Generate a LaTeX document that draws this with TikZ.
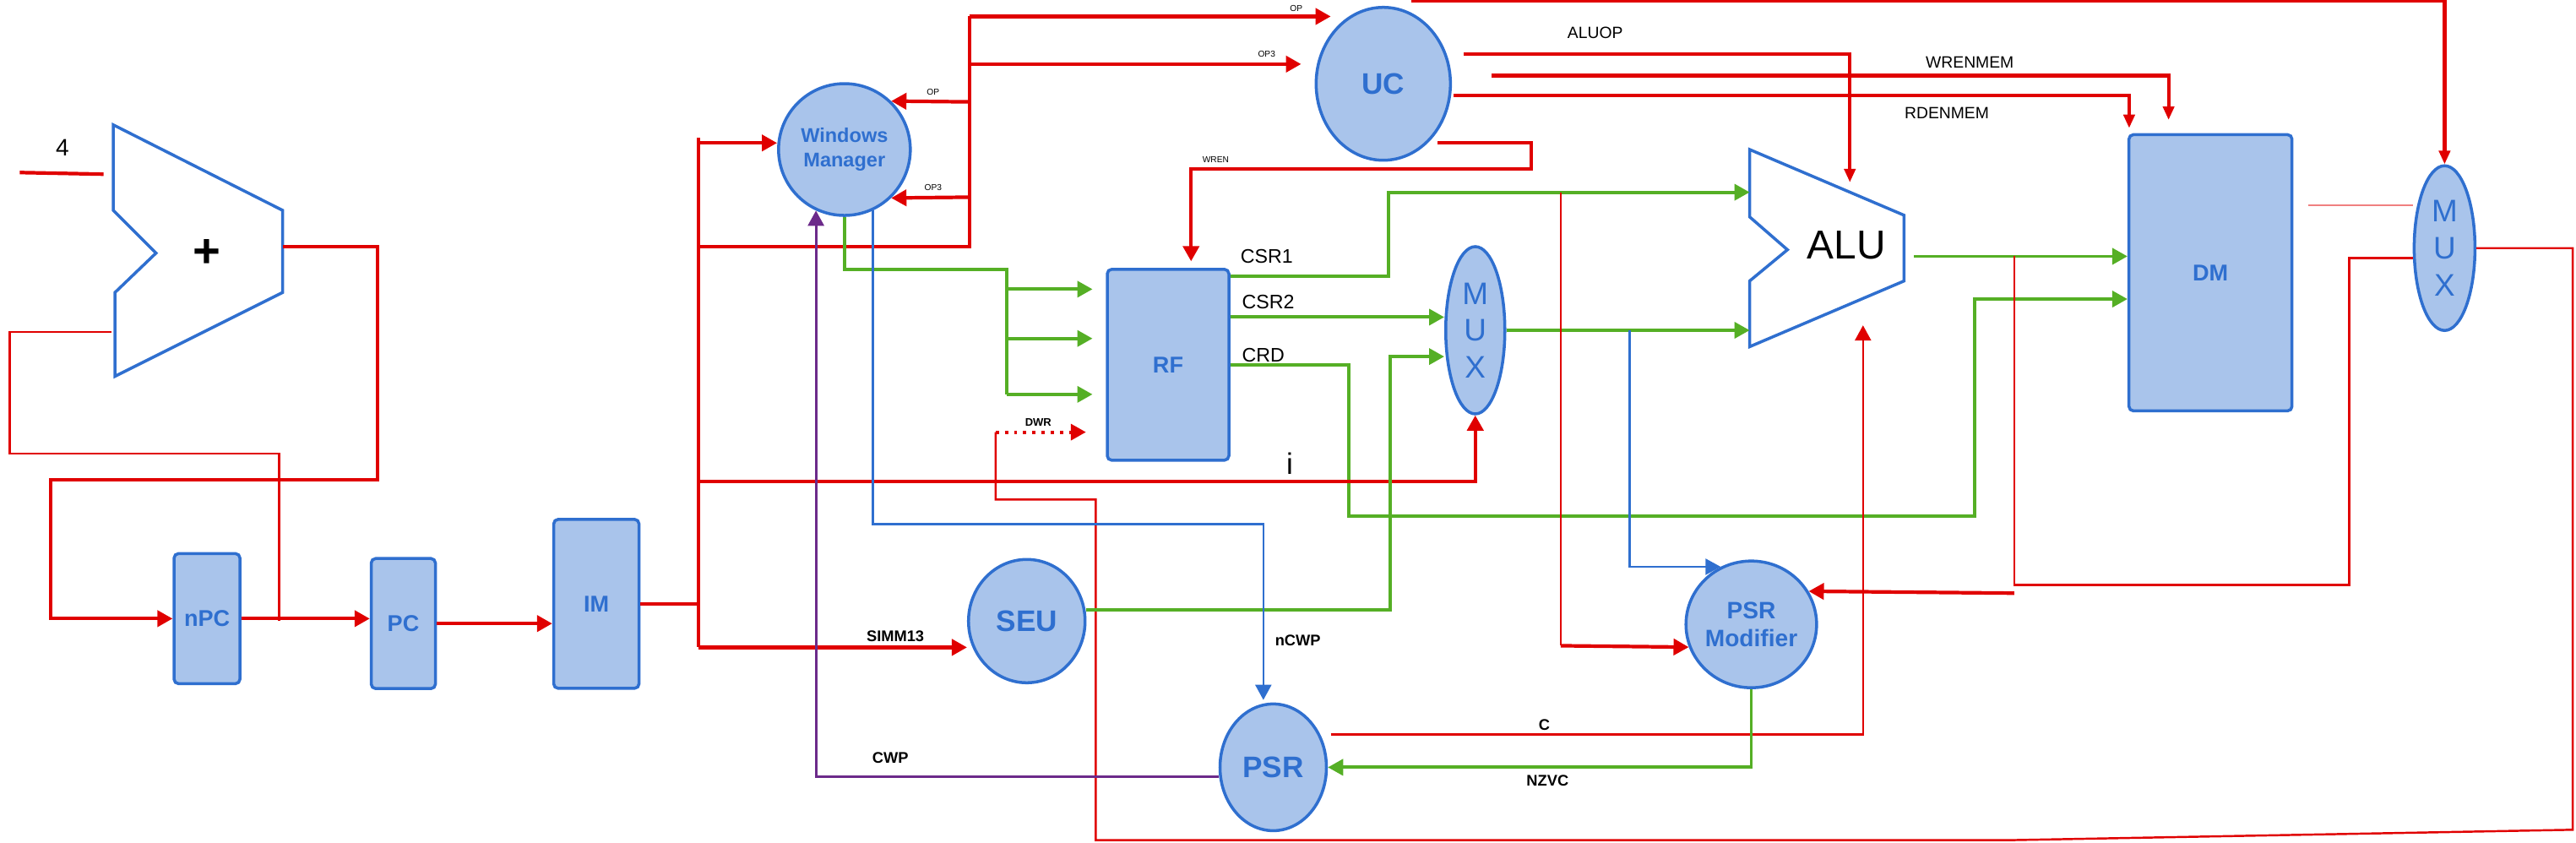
\documentclass[tikz,border=0pt]{standalone}
\usepackage{fontspec}
\setmainfont{Liberation Sans}
\usetikzlibrary{positioning, arrows.meta, shapes.geometric}
\definecolor{dpblue}{HTML}{2F6FCF}
\definecolor{dpfill}{HTML}{A9C4EB}
\definecolor{dpred}{HTML}{E00000}
\definecolor{dpgreen}{HTML}{55AF25}
\definecolor{dppurple}{HTML}{6C2A8A}
\definecolor{dppink}{HTML}{F08080}

\begin{document}
\begin{tikzpicture}[x=0.1945mm, y=-0.1945mm,
        >={Triangle[length=1.8mm,width=1.9mm]},
        slim/.style={-{Triangle[length=1.6mm,width=1.3mm]}},
        regbox/.style={draw=dpblue, fill=dpfill, line width=1pt, rounded corners=1.5pt, inner sep=0pt, text=dpblue, font=\fontsize{7.7}{9}\selectfont\bfseries},
        fu/.style={ellipse, draw=dpblue, fill=dpfill, line width=1pt, inner sep=0pt, text=dpblue, align=center, font=\fontsize{10}{12}\selectfont\bfseries},
        muxe/.style={fu, font=\fontsize{10.5}{12.4}\selectfont},
        alubody/.style={draw=dpblue, line width=1pt, line join=miter},
        rwire/.style={draw=dpred, line width=1.2pt},
        rthin/.style={draw=dpred, line width=0.7pt},
        rdots/.style={draw=dpred, line width=1.1pt, dotted},
        rpale/.style={draw=dppink, line width=0.5pt},
        gwire/.style={draw=dpgreen, line width=1.1pt},
        bwire/.style={draw=dpblue, line width=0.7pt},
        pwire/.style={draw=dppurple, line width=0.8pt},
        sig/.style={font=\fontsize{5.5}{6}\selectfont},
        csig/.style={font=\fontsize{6.6}{7}\selectfont},
        bsig/.style={font=\fontsize{5.2}{6}\selectfont\bfseries},
        opsig/.style={font=\fontsize{2.9}{3}\selectfont}]
      \useasboundingbox (0,0) rectangle (1568,512.6);

      % Nodes
      \node[regbox, minimum width=7.8mm, minimum height=15.4mm] (npc) at (126,376.5) {nPC};
      \node[regbox, minimum width=7.6mm, minimum height=15.4mm] (pc) at (245.5,379.5) {PC};
      \node[regbox, minimum width=10.1mm, minimum height=20mm] (im) at (363,367.5) {IM};
      \node[regbox, minimum width=14.4mm, minimum height=22.6mm] (rf) at (711,222) {RF};
      \node[regbox, minimum width=19.3mm, minimum height=32.7mm] (dm) at (1345.5,166) {DM};
      \node[fu, minimum width=15.6mm, minimum height=15.6mm, font=\fontsize{6.7}{8.3}\selectfont\bfseries] (wm) at (514,91) {Windows\\Manager};
      \node[fu, minimum width=15.9mm, minimum height=18.1mm] (uc) at (842,51) {UC};
      \node[fu, minimum width=13.8mm, minimum height=14.6mm] (seu) at (625,378) {SEU};
      \node[fu, minimum width=12.6mm, minimum height=15mm] (psr) at (775,467) {PSR};
      \node[fu, minimum width=15.2mm, minimum height=15mm, font=\fontsize{8}{9.5}\selectfont\bfseries] (psrmod) at (1066,380) {PSR\\Modifier};
      \node[muxe, minimum width=7mm, minimum height=19.8mm] (mux) at (898,201) {M\\U\\X};
      \node[muxe, minimum width=7.2mm, minimum height=19.5mm] (muxb) at (1488,151) {M\\U\\X};

      % Adder and ALU
      \draw[alubody] (69,76) -- (172,128) -- (172,178) -- (70,229) -- (70,178) -- (95,154) -- (69,128) -- cycle;
      \node[font=\fontsize{16}{16}\selectfont\bfseries] (addsym) at (126,154) {+};
      \draw[alubody] (1065,91) -- (1159,131) -- (1159,171) -- (1065,211) -- (1065,171) -- (1088,152) -- (1065,132) -- cycle;
      \node[font=\fontsize{13.6}{14}\selectfont] (alusym) at (1124,149) {ALU};
      \coordinate (addin1) at (63,106);
      \coordinate (addin2) at (68,202);
      \coordinate (addout) at (172,150);
      \coordinate (npcjoint) at (170,378);
      \coordinate (aluin1) at (1065,117);
      \coordinate (aluin2) at (1065,201);
      \coordinate (aluout) at (1165,156);
      \coordinate (bustop) at (425,84);
      \coordinate (busbot) at (425,394);

      % Edges: PC loop
      \draw[rwire] (addin1) -- ++(-51,-1);
      \draw[rthin] (npcjoint) |- (6,276) |- (addin2);
      \draw[rwire, ->] (addout) -- (230,150) |- (31,292) |- (npc.west);
      \draw[rwire, ->] (npc.east) -- (npc.east -| pc.west);
      \draw[rwire, ->] (pc.east) -- (pc.east -| im.west);
      \draw[rwire] (im.east) -- (im.east -| bustop);
      \draw[rwire] (bustop) -- (busbot);
      \draw[rwire, ->] (425,87) -- (wm.west |- 0,87);

      % Edges: opcode fields
      \draw[rwire] (425,150) -| (590,10);
      \draw[rwire, ->] (590,10) -- (810,10);
      \draw[rwire, ->] (590,39) -- (792,39);
      \draw[rwire, ->] (590,62) -- (wm.46);
      \draw[rwire, ->] (590,120) -- (wm.-46);

      % Edges: control unit
      \draw[rwire, slim] (uc.north) ++(17,-3) -| (muxb.north);
      \draw[rwire, slim] (891,33) -| (1126,111);
      \draw[rwire, slim] (908,46) -| (1320,73);
      \draw[rwire, slim] (885,58) -| (1296,78);
      \draw[rwire, ->] (875,87) -- (932,87) |- (725,103) -- (725,159);

      % Edges: register file
      \draw[gwire] (wm.south) |- (613,164) -- (613,240);
      \draw[gwire, ->] (613,176) -- (665,176);
      \draw[gwire, ->] (613,206) -- (665,206);
      \draw[gwire, ->] (613,240) -- (665,240);
      \draw[rdots, ->] (606,263) -- (661,263);
      \draw[rthin] (606,263) |- (667,304) -- (667,511.3) -- (1225,511.3) -- (1566,505) -- (1566,151) -- (muxb.east);
      \draw[gwire, ->] (rf.east |- 0,168) -| (845,117) -- (aluin1);
      \draw[gwire, ->] (rf.east |- 0,193) -- (mux.west |- 0,193);
      \draw[gwire, ->] (rf.east |- 0,222) -| (821,314) -| (1202,182) -- (dm.west |- 0,182);

      % Edges: operand mux, ALU, memory
      \draw[rwire, ->] (busbot) -- (seu.west |- busbot);
      \draw[rwire, ->] (425,293) -| (mux.south);
      \draw[gwire, ->] (seu.east |- 0,371) -| (846,217) -- (mux.west |- 0,217);
      \draw[gwire, ->] (mux.east) -- (aluin2);
      \draw[gwire, ->] (aluout) -- (dm.west |- aluout);
      \draw[bwire, ->] (992,201) |- (psrmod.118);
      \draw[rthin] (950,117) -- (950,393);
      \draw[rwire, ->] (950,393) -- (psrmod.200);
      \draw[rthin] (1226,156) |- (1430,356) |- (muxb.west |- 0,157);
      \draw[rwire, ->] (1226,361) -- (psrmod.30);
      \draw[rpale] (1405,125) -- (muxb.west |- 0,125);

      % Edges: PSR
      \draw[rthin, ->] (810,447) -| (1134,198);
      \draw[gwire, ->] (psrmod.south) |- (psr.east);
      \draw[bwire, ->] (wm.-65) |- (769,319) -- (769,426);
      \draw[pwire, ->] (psr.190) -| (wm.-115);

      % Labels
      \node[font=\fontsize{8}{8}\selectfont] (lfour) at (38,90) {4};
      \node[opsig] (lopuc) at (789,5) {OP};
      \node[opsig] (lop3uc) at (771,33) {OP3};
      \node[opsig] (lopwm) at (568,56) {OP};
      \node[opsig] (lop3wm) at (568,114) {OP3};
      \node[opsig] (lwren) at (740,97) {WREN};
      \node[sig] (laluop) at (971,20) {ALUOP};
      \node[sig] (lwrenmem) at (1199,38) {WRENMEM};
      \node[sig] (lrdenmem) at (1185,69) {RDENMEM};
      \node[csig] (lcsr1) at (771,156) {CSR1};
      \node[csig] (lcsr2) at (772,184) {CSR2};
      \node[csig] (lcrd) at (769,216) {CRD};
      \node[font=\fontsize{10}{10}\selectfont] (li) at (785,282) {i};
      \node[font=\fontsize{3.7}{4}\selectfont\bfseries] (ldwr) at (632,257) {DWR};
      \node[bsig] (lsimm) at (545,387) {SIMM13};
      \node[bsig] (lncwp) at (790,390) {nCWP};
      \node[bsig] (lcwp) at (542,461) {CWP};
      \node[bsig] (lc) at (940,441) {C};
      \node[bsig] (lnzvc) at (942,475) {NZVC};
    \end{tikzpicture}
\end{document}
